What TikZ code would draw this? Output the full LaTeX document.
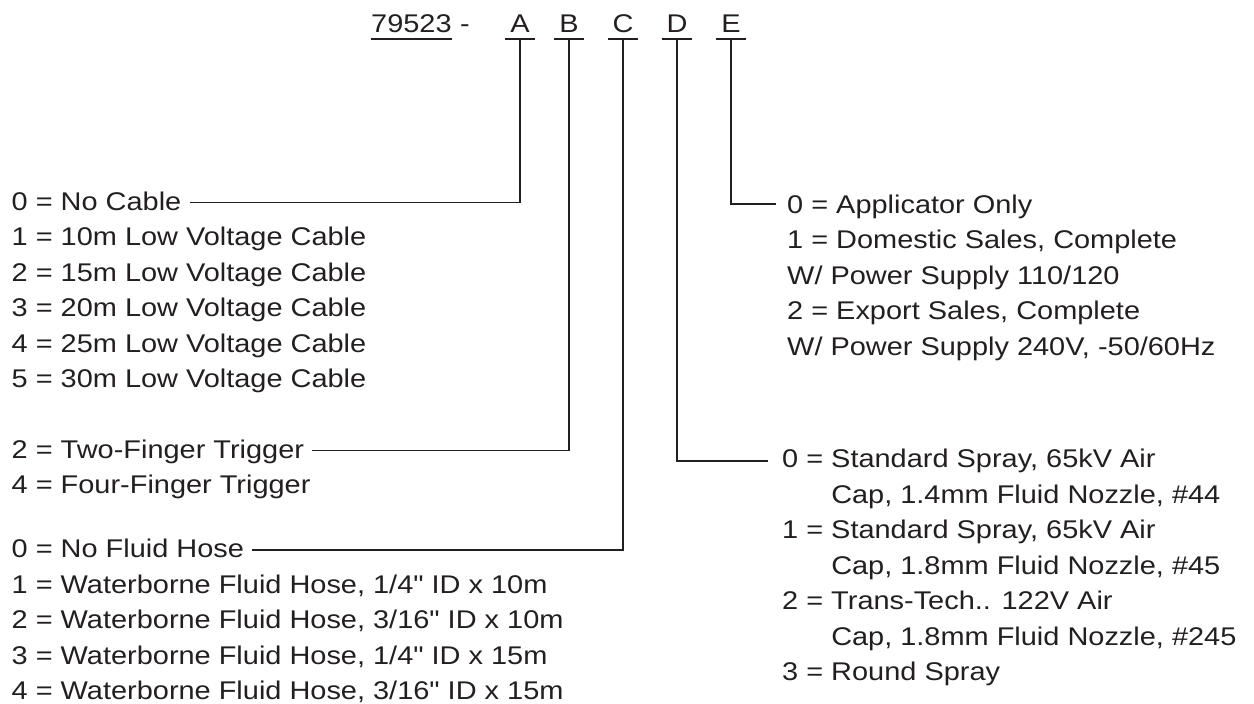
\documentclass[tikz,border=0pt]{standalone}
\usepackage{fontspec}
\setmainfont[FakeStretch=1.13]{Liberation Sans}
\newfontfamily\qfont[FakeStretch=1.13,Ligatures=TeXOff]{Liberation Sans}
\definecolor{ink}{RGB}{35,31,32}
\newcommand{\qt}{{\qfont\symbol{34}}}
\begin{document}
\begin{tikzpicture}[x=1pt,y=-1pt,
  item/.style={anchor=base west, inner sep=0pt, text=ink, font=\fontsize{25.6}{32}\selectfont},
  letter/.style={anchor=base, inner sep=0pt, text=ink, font=\fontsize{25.6}{32}\selectfont},
  conn/.style={draw=ink, line width=1.9pt},
  bar/.style={draw=ink, line width=2pt}]
\useasboundingbox (0,0) rectangle (1254,704);
% header
\node[item] (pn) at (371,32) {79523};
\node[item] (dash) at (pn.base east) {\ -};
\draw[bar] ([yshift=-7pt]pn.base west) -- ([yshift=-7pt]pn.base east);
\foreach \n/\x in {A/520,B/569,C/623,D/677,E/731}{
  \node[letter] (h\n) at (\x,32) {\n};
  \draw[bar] ([xshift=-15pt,yshift=-7pt]h\n.base) -- ([xshift=15pt,yshift=-7pt]h\n.base);
}
% A group
\node[item] (a0) at (11.5,210) {0 = No Cable};
\node[item] (a1) at (11.5,245.5) {1 = 10m Low Voltage Cable};
\node[item] (a2) at (11.5,281) {2 = 15m Low Voltage Cable};
\node[item] (a3) at (11.5,316.5) {3 = 20m Low Voltage Cable};
\node[item] (a4) at (11.5,352) {4 = 25m Low Voltage Cable};
\node[item] (a5) at (11.5,387.5) {5 = 30m Low Voltage Cable};
% B group
\node[item] (b2) at (11.5,458) {2 = Two-Finger Trigger};
\node[item] (b4) at (11.5,493.5) {4 = Four-Finger Trigger};
% C group
\node[item] (c0) at (11.5,557.5) {0 = No Fluid Hose};
\node[item] (c1) at (11.5,593) {1 = Waterborne Fluid Hose, 1/4\qt{} ID x 10m};
\node[item] (c2) at (11.5,628.5) {2 = Waterborne Fluid Hose, 3/16\qt{} ID x 10m};
\node[item] (c3) at (11.5,664) {3 = Waterborne Fluid Hose, 1/4\qt{} ID x 15m};
\node[item] (c4) at (11.5,699.5) {4 = Waterborne Fluid Hose, 3/16\qt{} ID x 15m};
% E group
\node[item] (e0) at (787,213) {0 = Applicator Only};
\node[item] (e1) at (787,248.5) {1 = Domestic Sales, Complete};
\node[item] (e2) at (787,284) {W/ Power Supply 110/120};
\node[item] (e3) at (787,319.5) {2 = Export Sales, Complete};
\node[item] (e4) at (787,355) {W/ Power Supply 240V, -50/60Hz};
% D group
\node[item] (d0) at (782,467.5) {0 = Standard Spray, 65kV Air};
\node[item] (d1) at (782,503) {\phantom{0 = }Cap, 1.4mm Fluid Nozzle, \#44};
\node[item] (d2) at (782,538.5) {1 = Standard Spray, 65kV Air};
\node[item] (d3) at (782,574) {\phantom{0 = }Cap, 1.8mm Fluid Nozzle, \#45};
\node[item] (d4) at (782,609.5) {2 = Trans-Tech.. 122V Air};
\node[item] (d5) at (782,645) {\phantom{0 = }Cap, 1.8mm Fluid Nozzle, \#245};
\node[item] (d6) at (782,680.5) {3 = Round Spray};
% connectors
\draw[conn] ([yshift=-7pt]hA.base) |- ([xshift=8pt,yshift=7.5pt]a0.base east);
\draw[conn] ([yshift=-7pt]hB.base) |- ([xshift=8pt,yshift=7.5pt]b2.base east);
\draw[conn] ([yshift=-7pt]hC.base) |- ([xshift=8pt,yshift=7.5pt]c0.base east);
\draw[conn] ([yshift=-7pt]hD.base) |- ([xshift=-14pt,yshift=6.5pt]d0.base west);
\draw[conn] ([yshift=-7pt]hE.base) |- ([xshift=-11pt,yshift=9pt]e0.base west);
\end{tikzpicture}
\end{document}
